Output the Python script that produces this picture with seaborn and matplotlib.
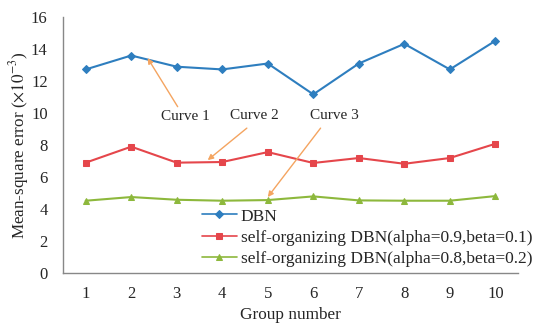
import matplotlib
matplotlib.use("Agg")
import matplotlib.pyplot as plt
import seaborn as sns
import pandas as pd

groups = [1, 2, 3, 4, 5, 6, 7, 8, 9, 10]
dbn = [12.73, 13.6, 12.9, 12.73, 13.1, 11.17, 13.1, 14.33, 12.73, 14.52]
sodbn_09 = [6.9, 7.9, 6.9, 6.94, 7.56, 6.88, 7.19, 6.83, 7.19, 8.08]
sodbn_08 = [4.52, 4.75, 4.58, 4.52, 4.56, 4.79, 4.54, 4.52, 4.52, 4.81]
names = ["DBN",
         "self-organizing DBN(alpha=0.9,beta=0.1)",
         "self-organizing DBN(alpha=0.8,beta=0.2)"]
yticks = [0, 2, 4, 6, 8, 10, 12, 14, 16]
curve_labels = ["Curve 1", "Curve 2", "Curve 3"]
label_pos = [(3.2, 9.8), (4.71, 9.85), (6.47, 9.85)]
arrow_start = [(3.02, 10.4), (4.54, 9.06), (6.16, 9.06)]
arrow_end = [(2.36, 13.44), (3.68, 7.06), (5.0, 4.75)]

sns.set_style("white")
plt.rcParams['font.family'] = ['Liberation Serif', 'DejaVu Serif']
plt.rcParams['mathtext.fontset'] = 'stix'

fig = plt.figure(figsize=(5.5, 3.36), dpi=100)
ax = fig.add_axes([0.1145, 0.1875, 0.8275, 0.7615])

colors = ["#2E7EBF", "#E5464B", "#8DB83C"]
markers = ["D", "s", "^"]
msizes = [4, 5, 5]
for vals, name, c, m, ms in zip([dbn, sodbn_09, sodbn_08], names, colors, markers, msizes):
    df = pd.DataFrame({"g": groups, "v": vals})
    sns.lineplot(data=df, x="g", y="v", ax=ax, color=c, marker=m, markersize=ms,
                 markeredgecolor=c, linewidth=1.5, label=name)

ax.set_xlim(0.5, 10.5)
ax.set_ylim(0, 16)
ax.set_yticks(yticks)
ax.set_xticks(groups)
ax.set_xticks([i + 0.5 for i in range(1, 10)], minor=True)
ax.tick_params(axis='x', which='major', length=0, labelsize=12, pad=9)
ax.tick_params(axis='x', which='minor', length=4, direction='in', color='#888888')
ax.tick_params(axis='y', length=0, labelsize=12, pad=11)
for s in ["top", "right"]:
    ax.spines[s].set_visible(False)
for s in ["left", "bottom"]:
    ax.spines[s].set_color("#888888")
    ax.spines[s].set_linewidth(1.0)

ax.set_xlabel("Group number", fontsize=12.4, labelpad=4)
ax.set_ylabel(r"Mean-square error ($\times10^{-3}$)", fontsize=12.3, labelpad=0)

for txt, tp, st, en in zip(curve_labels, label_pos, arrow_start, arrow_end):
    ax.text(tp[0], tp[1], txt, fontsize=11, ha="center", va="center")
    ax.annotate("", xy=en, xytext=st,
                arrowprops=dict(arrowstyle="-|>", color="#F4A460", lw=1.0,
                                mutation_scale=8, shrinkA=0, shrinkB=0))

leg = ax.legend(loc="lower left", bbox_to_anchor=(0.305, 0.025), frameon=False,
                fontsize=12.5, handlelength=2.0, handletextpad=0.25,
                labelspacing=0.28, borderaxespad=0, borderpad=0)
for h in leg.get_lines():
    h.set_linewidth(1.2)
    h.set_markersize(4)

fig.savefig("out.png", dpi=100)
